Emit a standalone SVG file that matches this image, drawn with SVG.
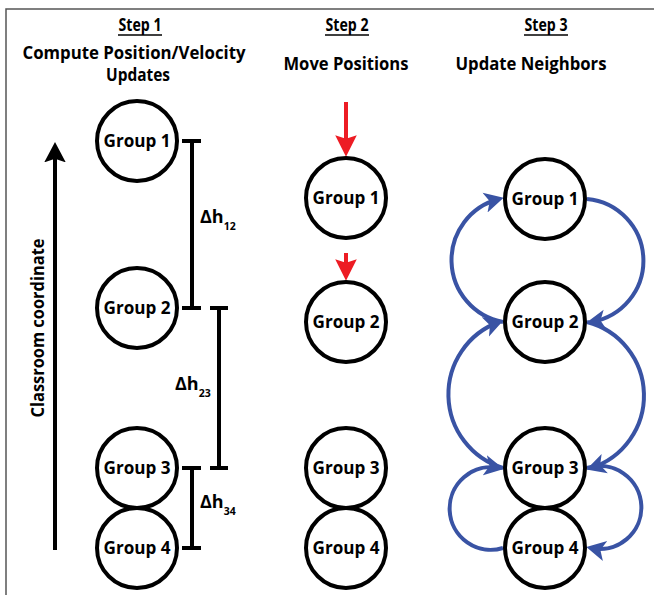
<svg xmlns="http://www.w3.org/2000/svg" width="654" height="595" viewBox="0 0 654 595">
<defs>
<style>
text{font-family:"Open Sans","Liberation Sans",sans-serif;font-weight:700;fill:#000}
.hd{font-size:18px;text-anchor:middle}
.gl{font-size:18px;text-anchor:middle}
.dl{font-size:18px}
.sub{font-size:10.5px}
.node{fill:#fff;stroke:#000;stroke-width:4}
.bar{stroke:#000;stroke-width:4;fill:none}
.red{stroke:#ed1c24;stroke-width:4;fill:none;marker-end:url(#ar)}
.blue{stroke:#3953a4;stroke-width:4;fill:none;marker-end:url(#ab)}
</style>
<marker id="ar" markerUnits="userSpaceOnUse" markerWidth="24" markerHeight="24" viewBox="0 -10 20 20" refX="14" refY="0" orient="auto">
<path d="M0,-9 L18,0 L0,9 L3,0 z" fill="#ed1c24"/>
</marker>
<marker id="ab" markerUnits="userSpaceOnUse" markerWidth="24" markerHeight="24" viewBox="0 -10 20 20" refX="12" refY="0" orient="auto">
<path d="M0,-8.5 L16,0 L0,8.5 L4,0 z" fill="#3953a4"/>
</marker>
<marker id="ak" markerUnits="userSpaceOnUse" markerWidth="24" markerHeight="24" viewBox="0 -10 20 20" refX="12" refY="0" orient="auto">
<path d="M0,-9 L17,0 L0,9 L3,0 z" fill="#000"/>
</marker>
</defs>
<rect width="654" height="595" fill="#fff"/>
<path d="M6,595 V9 H654" fill="none" stroke="#555" stroke-width="1.5"/>

<g id="headers">
<text class="hd" x="140" y="31" textLength="43" lengthAdjust="spacingAndGlyphs">Step 1</text>
<line x1="118" y1="35" x2="162" y2="35" stroke="#000" stroke-width="1.5"/>
<text class="hd" x="134" y="59" textLength="223" lengthAdjust="spacingAndGlyphs">Compute Position/Velocity</text>
<text class="hd" x="138" y="81" textLength="64" lengthAdjust="spacingAndGlyphs">Updates</text>
<text class="hd" x="347" y="31" textLength="43" lengthAdjust="spacingAndGlyphs">Step 2</text>
<line x1="325" y1="35" x2="369" y2="35" stroke="#000" stroke-width="1.5"/>
<text class="hd" x="346" y="70" textLength="125" lengthAdjust="spacingAndGlyphs">Move Positions</text>
<text class="hd" x="546" y="31" textLength="43" lengthAdjust="spacingAndGlyphs">Step 3</text>
<line x1="524" y1="35" x2="568" y2="35" stroke="#000" stroke-width="1.5"/>
<text class="hd" x="531" y="70" textLength="151" lengthAdjust="spacingAndGlyphs">Update Neighbors</text>
</g>

<g id="axis">
<line x1="55" y1="550" x2="55" y2="148" stroke="#000" stroke-width="4" marker-end="url(#ak)"/>
<text class="hd" transform="translate(44,328) rotate(-90)" textLength="179" lengthAdjust="spacingAndGlyphs">Classroom coordinate</text>
</g>

<g id="connectors">
<path class="bar" d="M182,141 H201 M192,141 V308 M182,308 H201"/>
<path class="bar" d="M210,308 H228 M219,308 V468 M210,468 H228"/>
<path class="bar" d="M182,468 H201 M192,468 V548 M182,548 H201"/>
<line class="red" x1="346" y1="102" x2="346" y2="152"/>
<line class="red" x1="346" y1="253" x2="346" y2="276"/>
<path class="blue" d="M503,322 A63,63 0 0,1 499,199"/>
<path class="blue" d="M503,468 A77,77 0 0,1 499,322"/>
<path class="blue" d="M503,548 A41.3,41.3 0 1,1 499,468"/>
<path class="blue" d="M587,199 A62,62 0 0,1 591,322"/>
<path class="blue" d="M587,322 A76,76 0 0,1 591,468"/>
<path class="blue" d="M587,468 A41.5,41.5 0 1,1 591,548"/>
</g>

<g id="labels">
<text class="dl" x="200" y="223">Δh<tspan class="sub" dy="7">12</tspan></text>
<text class="dl" x="175" y="390">Δh<tspan class="sub" dy="7">23</tspan></text>
<text class="dl" x="200" y="508">Δh<tspan class="sub" dy="7">34</tspan></text>
</g>

<g id="s1-group1"><circle class="node" cx="137" cy="141" r="40"/><text class="gl" x="137" y="147" textLength="67" lengthAdjust="spacingAndGlyphs">Group 1</text></g>
<g id="s1-group2"><circle class="node" cx="137" cy="308" r="40"/><text class="gl" x="137" y="314" textLength="67" lengthAdjust="spacingAndGlyphs">Group 2</text></g>
<g id="s1-group3"><circle class="node" cx="137" cy="468" r="40"/><text class="gl" x="137" y="474" textLength="67" lengthAdjust="spacingAndGlyphs">Group 3</text></g>
<g id="s1-group4"><circle class="node" cx="137" cy="548" r="40"/><text class="gl" x="137" y="554" textLength="67" lengthAdjust="spacingAndGlyphs">Group 4</text></g>

<g id="s2-group1"><circle class="node" cx="346" cy="198" r="40"/><text class="gl" x="346" y="204" textLength="67" lengthAdjust="spacingAndGlyphs">Group 1</text></g>
<g id="s2-group2"><circle class="node" cx="346" cy="322" r="40"/><text class="gl" x="346" y="328" textLength="67" lengthAdjust="spacingAndGlyphs">Group 2</text></g>
<g id="s2-group3"><circle class="node" cx="346" cy="468" r="40"/><text class="gl" x="346" y="474" textLength="67" lengthAdjust="spacingAndGlyphs">Group 3</text></g>
<g id="s2-group4"><circle class="node" cx="346" cy="548" r="40"/><text class="gl" x="346" y="554" textLength="67" lengthAdjust="spacingAndGlyphs">Group 4</text></g>

<g id="s3-group1"><circle class="node" cx="545" cy="199" r="40"/><text class="gl" x="545" y="205" textLength="67" lengthAdjust="spacingAndGlyphs">Group 1</text></g>
<g id="s3-group2"><circle class="node" cx="545" cy="322" r="40"/><text class="gl" x="545" y="328" textLength="67" lengthAdjust="spacingAndGlyphs">Group 2</text></g>
<g id="s3-group3"><circle class="node" cx="545" cy="468" r="40"/><text class="gl" x="545" y="474" textLength="67" lengthAdjust="spacingAndGlyphs">Group 3</text></g>
<g id="s3-group4"><circle class="node" cx="545" cy="548" r="40"/><text class="gl" x="545" y="554" textLength="67" lengthAdjust="spacingAndGlyphs">Group 4</text></g>
</svg>
